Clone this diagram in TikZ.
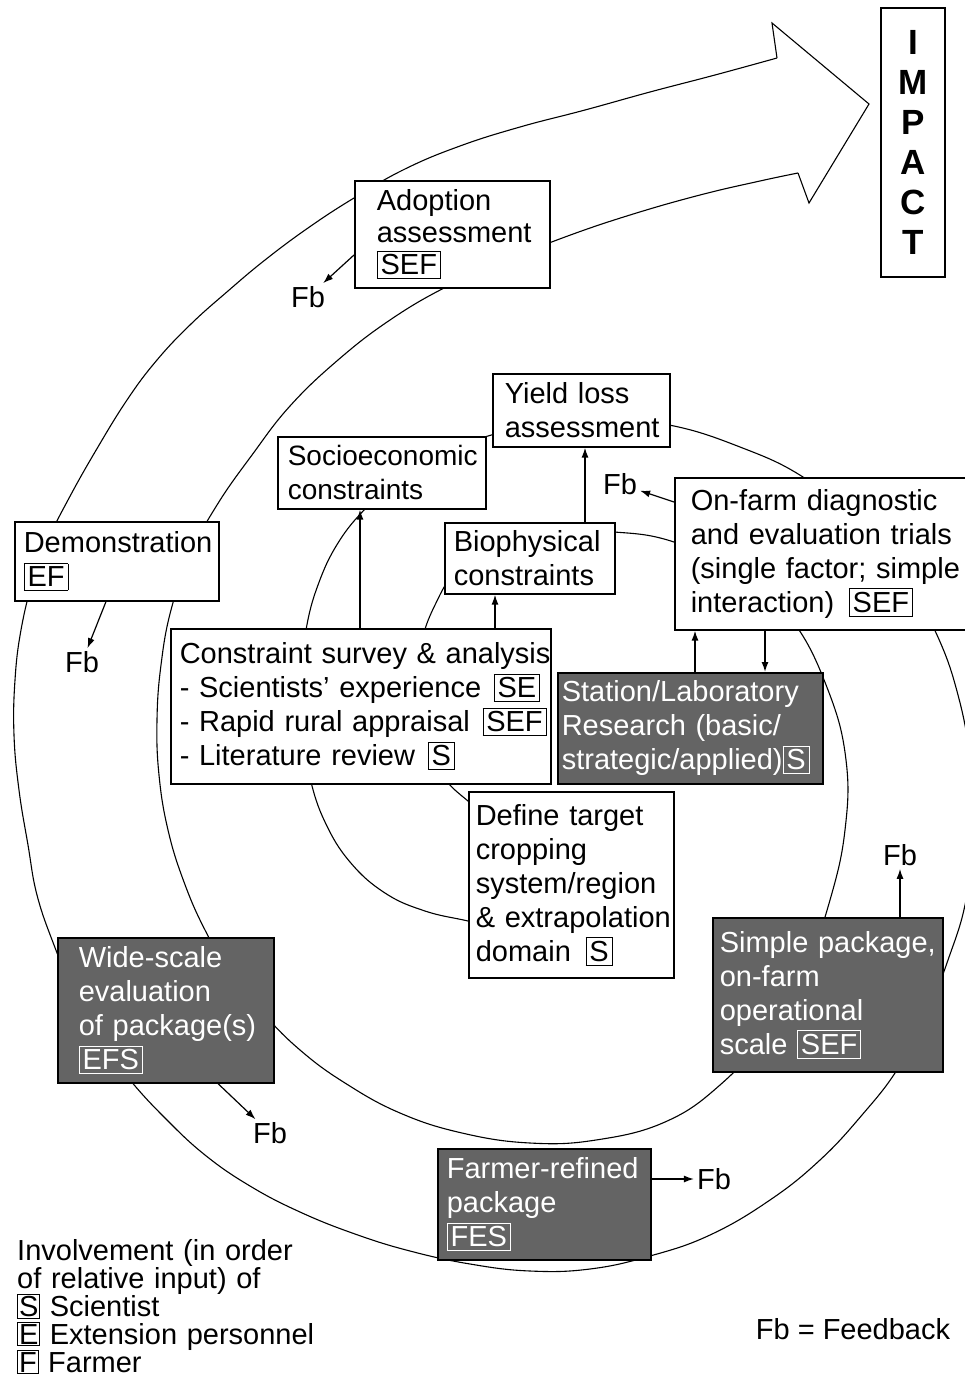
\documentclass[tikz,border=0pt]{standalone}
\usepackage{fontspec}
\setmainfont{Liberation Sans}
\usepackage{tikz}
\usetikzlibrary{calc,arrows.meta}
\usepackage{xcolor}
\definecolor{PackageGrey}{HTML}{646464}
\hyphenpenalty=10000
\exhyphenpenalty=10000

\newcommand{\involve}[1]{{\setlength{\fboxsep}{3pt}\setlength{\fboxrule}{0.8pt}\fbox{#1}}}
\newcommand{\legendkey}[1]{{\setlength{\fboxsep}{1pt}\setlength{\fboxrule}{0.8pt}\fbox{#1}}}

\begin{document}
\begin{tikzpicture}[x=1pt,y=-1pt,
	stage/.style={draw, line width=1.6pt, fill=white, anchor=north west, align=left,
		inner sep=0pt, font=\fontsize{29}{34}\selectfont},
	lpad/.style={execute at begin node={\leftskip=#1\relax}},
	package/.style={stage, fill=PackageGrey, text=white},
	band/.style={line width=1.1pt, black},
	fb/.style={inner sep=3pt, font=\fontsize{29}{34}\selectfont},
	feedback/.style={line width=1.2pt, -{Latex[length=10pt,width=7pt]}},
	flow/.style={line width=1.4pt, -{Latex[length=10pt,width=7pt]}}]
		\useasboundingbox (0,0) rectangle (965,1378);% page of the figure

		\coordinate (UpperEnd) at (777,58);
		\coordinate (LowerEnd) at (798,173);

		% inner edge of the spiral band
		\draw[band] plot[smooth, tension=0.7] coordinates {(500,822) (468,801) (440,772) (424,730)
			(419,685) (421,645) (435,605) (458,570) (500,545) (555,533) (614,532) (674,542)
			(740,573) (792,620) (828,690) (846,760) (845,830) (830,900) (805,970) (770,1030)
			(720,1085) (665,1122) (596,1140) (530,1143) (462,1133) (400,1113) (345,1083)
			(300,1050) (262,1012) (230,972) (205,930) (184,882) (168,830) (159,775) (157,720)
			(161,665) (171,610) (190,555) (217,505) (252,455) (290,406) (338,360) (390,320)
			(446,287) (505,261) (565,237) (630,215) (700,195) (760,181) (798,173)};
		% outer edge of the spiral band
		\draw[band] plot[smooth, tension=0.7] coordinates {(505,930) (468,921) (425,911) (385,893)
			(350,862) (325,822) (310,778) (302,730) (301,680) (306,630) (318,585) (338,543)
			(366,508) (400,478) (440,455) (488,436) (540,425) (600,420) (669,425) (740,447)
			(803,477) (860,523) (905,578) (937,635) (958,695) (970,760) (973,830) (966,900)
			(948,960) (925,1018) (897,1070) (862,1115) (820,1160) (770,1200) (710,1235)
			(650,1256) (590,1269) (530,1271) (470,1264) (410,1251) (355,1234) (300,1212)
			(250,1186) (205,1155) (165,1118) (130,1080) (100,1040) (75,995) (54,945) (37,895)
			(28,845) (19,790) (14,735) (15,680) (21,630) (33,580) (48,540) (68,500) (95,452)
			(127,400) (157,360) (191,324) (228,291) (265,260) (308,228) (354,198) (405,169)
			(460,146) (520,127) (585,110) (650,92) (715,75) (777,58)};
		% head of the big arrow
		\draw[band, line join=miter] (UpperEnd) -- (772,23) -- (869,104) -- (809,203) -- (LowerEnd);

		\node[draw, line width=1.6pt, minimum width=64pt, minimum height=269pt, inner sep=0pt,
			align=center, font=\bfseries\fontsize{35}{40}\selectfont] (Impact) at (913,142.5)
			{I\\M\\P\\A\\C\\T};

		% stages along the spiral
		\node[stage, text width=195pt, lpad=22pt, minimum height=107pt,
			font=\fontsize{29}{32}\selectfont] (Adoption) at (354,180)
			{Adoption\\assessment\\\involve{SEF}};
		\node[stage, text width=177pt, lpad=12pt, minimum height=73pt] (YieldLoss) at (492,373)
			{Yield loss\\assessment};
		\node[stage, text width=208pt, lpad=10pt, minimum height=72pt,
			font=\fontsize{28}{34}\selectfont] (Socio) at (277,436)
			{Socioeconomic\\constraints};
		\node[stage, text width=204pt, lpad=9pt, minimum height=79pt] (Demo) at (14,521)
			{Demonstration\\\involve{EF}};
		\node[stage, text width=170pt, lpad=9pt, minimum height=71pt] (Biophys) at (444,522)
			{Biophysical\\constraints};
		\node[stage, text width=306pt, lpad=16pt, minimum height=152pt] (OnFarm) at (674,477)
			{On-farm diagnostic\\and evaluation trials\\(single factor; simple\\interaction)\hspace{5pt} \involve{SEF}};
		\node[stage, text width=380pt, lpad=9pt, minimum height=155pt] (Survey) at (170,628)
			{Constraint survey \& analysis\\- Scientists’ experience\hspace{3pt} \involve{SE}\\- Rapid rural appraisal\hspace{3pt} \involve{SEF}\\- Literature review\hspace{3pt} \involve{S}};
		\node[package, text width=265pt, lpad=4pt, minimum height=111pt] (Station) at (557,672)
			{Station/Laboratory\\Research (basic/\\strategic/applied)\involve{S}};
		\node[stage, text width=205pt, lpad=7pt, minimum height=186pt] (Target) at (468,791)
			{Define target\\cropping\\system/region\\\& extrapolation\\domain\hspace{5pt} \involve{S}};
		\node[package, text width=230pt, lpad=7pt, minimum height=154pt] (Simple) at (712,917)
			{Simple package,\\on-farm\\operational\\scale \involve{SEF}};
		\node[package, text width=216pt, lpad=21pt, minimum height=145pt] (WideScale) at (57,937)
			{Wide-scale\\evaluation\\of package(s)\\\involve{EFS}};
		\node[package, text width=213pt, lpad=9pt, minimum height=111pt] (Farmer) at (437,1148)
			{Farmer-refined\\package\\\involve{FES}};

		% links between stages
		\draw[flow] (Survey.north -| 360,0) -- (Socio.south -| 360,0);
		\draw[flow] (Survey.north -| 495,0) -- (Biophys.south -| 495,0);
		\draw[flow] (Biophys.north -| 585,0) -- (YieldLoss.south -| 585,0);
		\draw[flow] (Station.north -| 695,0) -- (OnFarm.south -| 695,0);
		\draw[flow] (OnFarm.south -| 765,0) -- (Station.north -| 765,0);

		% feedback
		\node[fb] (FbAdoption) at (308,297) {Fb};
		\node[fb] (FbDemo) at (82,662) {Fb};
		\node[fb] (FbOnFarm) at (620,484) {Fb};
		\node[fb] (FbSimple) at (900,855) {Fb};
		\node[fb] (FbWide) at (270,1133) {Fb};
		\node[fb] (FbFarmer) at (714,1179) {Fb};
		\draw[feedback] (Adoption.west |- 0,255) -- (FbAdoption);
		\draw[feedback] (Demo.south -| 106,0) -- (FbDemo);
		\draw[feedback] (OnFarm.west |- 0,502) -- (FbOnFarm);
		\draw[feedback] (Simple.north -| FbSimple.south) -- (FbSimple.south);
		\draw[feedback] (WideScale.south -| 218,0) -- (FbWide);
		\draw[feedback] (Farmer.east |- FbFarmer.west) -- (FbFarmer.west);

		% legend
		\node[anchor=north west, inner sep=0pt, text width=330pt, align=left,
			font=\fontsize{29}{28}\selectfont,
			execute at begin node={\lineskiplimit=-100pt\relax}] (Legend) at (17,1239)
			{Involvement (in order\\of relative input) of\\\legendkey{S} Scientist\\\legendkey{E} Extension personnel\\\legendkey{F} Farmer};
		\node[fb] (FbKey) at (853,1329) {Fb = Feedback};
	  \end{tikzpicture}
\end{document}
